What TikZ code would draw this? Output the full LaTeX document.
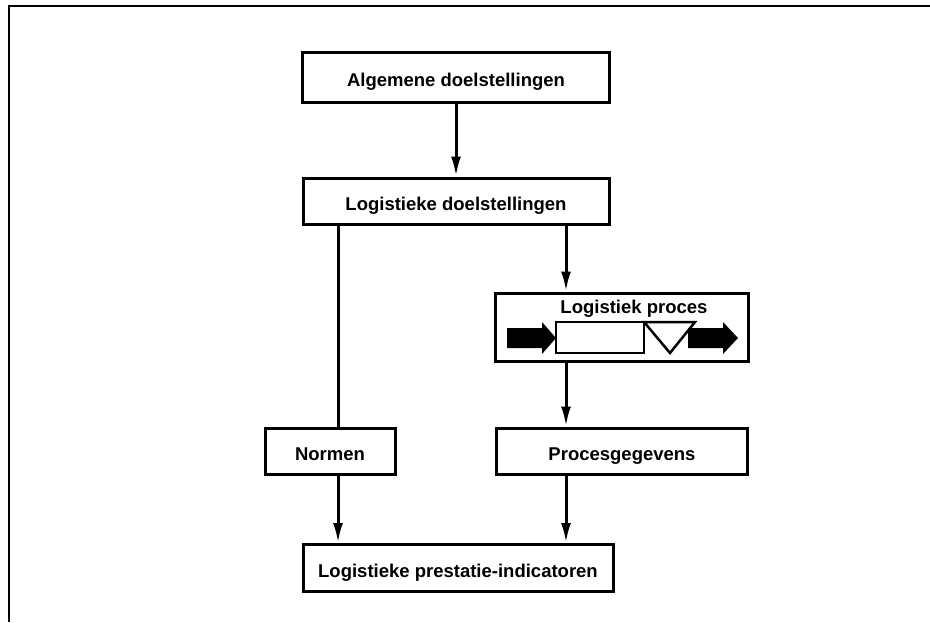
\documentclass[tikz,border=0pt]{standalone}
\usepackage{fontspec}
\setmainfont{Liberation Sans}
\usetikzlibrary{arrows.meta}
\begin{document}
\begin{tikzpicture}[x=1pt,y=-1pt,
  lbl/.style={font=\bfseries\fontsize{18.5}{22}\selectfont,text height=19pt,text depth=0pt},
  box/.style={draw,line width=3pt,inner sep=0pt,lbl},
  conn/.style={line width=3pt,-{Latex[length=20pt,width=10pt]}},
  plain/.style={line width=3pt}]
\useasboundingbox (0,0) rectangle (930,622);
\draw[line width=2.5pt] (930,6) -- (9,6) -- (9,622);
\node[box,minimum width=307pt,minimum height=50pt] (A) at (456,77) {Algemene doelstellingen};
\node[box,minimum width=306pt,minimum height=46pt] (B) at (456,201) {Logistieke doelstellingen};
\node[box,minimum width=253pt,minimum height=68pt] (LP) at (621.5,327) {};
\node[lbl,inner sep=0pt] (LPt) at (634,303.5) {Logistiek proces};
\node[box,minimum width=130pt,minimum height=46pt] (N) at (330,451) {Normen};
\node[box,minimum width=251pt,minimum height=46pt] (P) at (622,451) {Procesgegevens};
\node[box,minimum width=310pt,minimum height=47pt] (I) at (458,568) {Logistieke prestatie-indicatoren};
\coordinate (xl) at (338,0);
\coordinate (xr) at (566,0);
% process contents
\fill (507,328) -- (542,328) -- (542,322) -- (556,338) -- (542,354) -- (542,348) -- (507,348) -- cycle;
\draw[line width=2.5pt] (556,322) rectangle (644,353);
\draw[line width=2.5pt,line join=miter] (644,322) -- (695,322) -- (670,353) -- cycle;
\fill (688,328) -- (723,328) -- (723,322) -- (738,338) -- (723,354) -- (723,348) -- (688,348) -- cycle;
% connectors
\draw[conn] (A.south) -- (B.north);
\draw[plain] (B.south -| xl) -- (N.north -| xl);
\draw[conn] (B.south -| xr) -- (LP.north -| xr);
\draw[conn] (LP.south -| xr) -- (P.north -| xr);
\draw[conn] (N.south -| xl) -- (I.north -| xl);
\draw[conn] (P.south -| xr) -- (I.north -| xr);
\end{tikzpicture}
\end{document}
